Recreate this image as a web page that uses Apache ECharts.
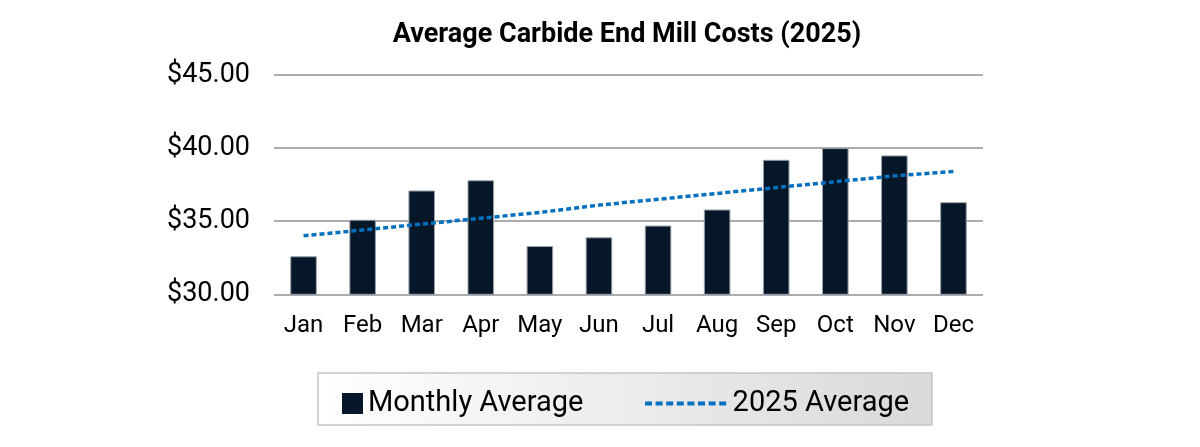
<!DOCTYPE html>
<html>
<head>
<meta charset="utf-8">
<script src="https://cdn.jsdelivr.net/npm/echarts@6/dist/echarts.min.js"></script>
<style>
html,body{margin:0;padding:0;background:#fff;}
#chart{width:1200px;height:447px;}
</style>
</head>
<body>
<div id="chart"></div>
<script>
const titleText = 'Average Carbide End Mill Costs (2025)';
const months = ['Jan','Feb','Mar','Apr','May','Jun','Jul','Aug','Sep','Oct','Nov','Dec'];
const monthlyAverage = [32.6, 35.1, 37.1, 37.8, 33.3, 33.9, 34.7, 35.8, 39.2, 40.0, 39.5, 36.3];
const yearAverageTrend = [34.0, 34.4, 34.8, 35.2, 35.6, 36.1, 36.5, 36.9, 37.3, 37.7, 38.1, 38.4];
const yTicks = [30, 35, 40, 45];
const seriesNames = ['Monthly Average', '2025 Average'];

// dotted legend icon (8 short dashes)
let dashPath = 'path://';
for (let i = 0; i < 8; i++) {
  const x0 = i * 10.6;
  dashPath += 'M' + x0 + ',0h7v4h-7z';
}

const FONT = 'Roboto';
const chart = echarts.init(document.getElementById('chart'), null, {renderer: 'canvas'});
chart.setOption({
  animation: false,
  backgroundColor: '#ffffff',
  title: {
    text: titleText,
    left: 622, top: 17, textAlign: 'center',
    textStyle: {fontFamily: FONT, fontWeight: 'bold', fontSize: 27, color: '#000'}
  },
  graphic: [{
    type: 'rect', z: 0, silent: true,
    shape: {x: 318, y: 373, width: 614, height: 52},
    style: {
      fill: new echarts.graphic.LinearGradient(0, 0, 1, 0, [
        {offset: 0, color: '#ffffff'}, {offset: 1, color: '#d8d9db'}
      ]),
      stroke: '#c4c4c4', lineWidth: 1.5
    }
  }],
  legend: [{
    data: [{name: seriesNames[0], icon: 'rect', itemStyle: {color: '#061729', borderWidth: 0}}],
    left: 337, top: 384,
    itemWidth: 21, itemHeight: 21, itemGap: 10,
    textStyle: {fontFamily: FONT, fontSize: 29, color: '#000'},
    z: 5
  }, {
    data: [{name: seriesNames[1], icon: dashPath, itemStyle: {color: '#0070c0', borderWidth: 0}}],
    left: 640, top: 384,
    itemWidth: 84, itemHeight: 4, itemGap: 12,
    textStyle: {fontFamily: FONT, fontSize: 29, color: '#000'},
    z: 5
  }],
  grid: {left: 274, right: 217, top: 75, bottom: 152.7, containLabel: false},
  xAxis: {
    type: 'category', data: months,
    axisLine: {show: false}, axisTick: {show: false},
    axisLabel: {fontFamily: FONT, fontSize: 24, color: '#000', margin: 20, interval: 0}
  },
  yAxis: {
    type: 'value', min: 30, max: 45, interval: 5,
    axisLine: {show: false}, axisTick: {show: false},
    axisLabel: {
      fontFamily: FONT, fontSize: 27, color: '#000', margin: 24,
      formatter: v => yTicks.includes(v) ? '$' + v.toFixed(2) : ''
    },
    splitLine: {lineStyle: {color: '#acacb0', width: 2}}
  },
  series: [{
    name: seriesNames[0], type: 'bar', data: monthlyAverage,
    barWidth: '45%',
    itemStyle: {color: '#061729', borderColor: '#9aa0a8', borderWidth: 1},
    z: 2
  }, {
    name: seriesNames[1], type: 'line', data: yearAverageTrend,
    symbol: 'none', showSymbol: false,
    lineStyle: {color: '#0070c0', width: 3.5, type: [5, 3]},
    itemStyle: {color: '#0070c0'},
    z: 3
  }]
});
</script>
</body>
</html>
